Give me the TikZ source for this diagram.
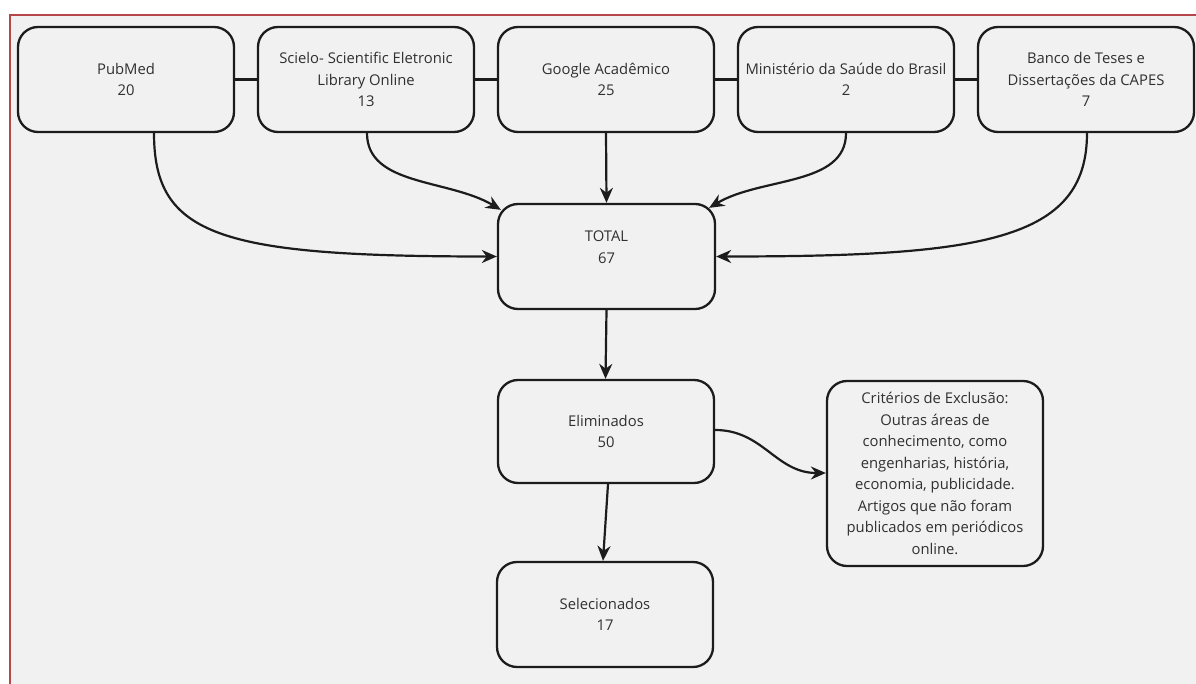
\documentclass[tikz,border=0pt]{standalone}
\usepackage{fontspec}
\setmainfont{Open Sans}
\usetikzlibrary{arrows.meta,calc}
\definecolor{bg}{HTML}{F1F1F1}
\definecolor{frame}{HTML}{B5474A}
\definecolor{ink}{HTML}{1C1C1C}
\definecolor{txt}{HTML}{303030}
\tikzset{
  box/.style={draw=ink, line width=2.3pt, fill=bg, rounded corners=20pt,
    minimum width=216pt, minimum height=105pt, inner sep=0pt,
    align=center, text=txt, font=\fontsize{14.8}{21.5}\selectfont},
  link/.style={draw=ink, line width=2.2pt},
  arr/.style={draw=ink, line width=2.2pt, -{Stealth[length=15pt,width=13pt]}},
}
\begin{document}
\begin{tikzpicture}[x=1pt,y=-1pt]
\useasboundingbox (0,0) rectangle (1196,684);
\fill[white] (0,0) rectangle (1196,684);
\fill[bg] (9.5,14.8) rectangle (1196,684);
\draw[frame, line width=2pt] (9.5,684) -- (9.5,14.8) -- (1196,14.8);

\node[box] (pub) at (126,79.5) {PubMed\\20};
\node[box] (sci) at (366,79.5) {Scielo- Scientific Eletronic\\Library Online\\13};
\node[box] (goo) at (606,79.5) {Google Acadêmico\\25};
\node[box] (min) at (846,79.5) {Ministério da Saúde do Brasil\\2};
\node[box] (ban) at (1086,79.5) {Banco de Teses e\\Dissertações da CAPES\\7};

\node[box, minimum width=217pt, text height=0pt, text depth=0pt] (tot) at (606.5,256.5) {};
\node[align=center, text=txt, font=\fontsize{14.8}{21.5}\selectfont, inner sep=0pt] (totlabel) at (606.5,247) {TOTAL\\67};
\node[box, minimum height=103pt] (eli) at (606,431.5) {Eliminados\\50};
\node[box] (sel) at (605,614.5) {Selecionados\\17};
\node[box, minimum height=185pt] (cri) at (935,473.5) {Critérios de Exclusão:\\Outras áreas de\\conhecimento, como\\engenharias, história,\\economia, publicidade.\\Artigos que não foram\\publicados em periódicos\\online.};

\draw[link] (pub.east) -- (sci.west);
\draw[link] (sci.east) -- (goo.west);
\draw[link] (goo.east) -- (min.west);
\draw[link] (min.east) -- (ban.west);

\draw[arr] ([xshift=28pt]pub.south) .. controls +(0,103) and +(-277,0) .. (tot.west);
\draw[arr] ([xshift=1pt]sci.south) .. controls +(0,53) and +(-52,-31) .. ($(tot.north west)+(4,7)$);
\draw[arr] (goo.south) -- (tot.north);
\draw[arr] (min.south) .. controls +(0,53) and +(52,-31) .. ($(tot.north east)+(-7,5)$);
\draw[arr] ([xshift=1pt]ban.south) .. controls +(0,108) and +(265,0) .. (tot.east);

\draw[arr] (tot.south) -- ([xshift=-0.5pt]eli.north);
\draw[arr] ([xshift=2pt]eli.south) -- ([xshift=-2pt]sel.north);
\draw[arr] ([yshift=1.5pt]eli.east) .. controls +(48,0) and +(-50,0) .. ([yshift=0.5pt]cri.west);
\end{tikzpicture}
\end{document}
